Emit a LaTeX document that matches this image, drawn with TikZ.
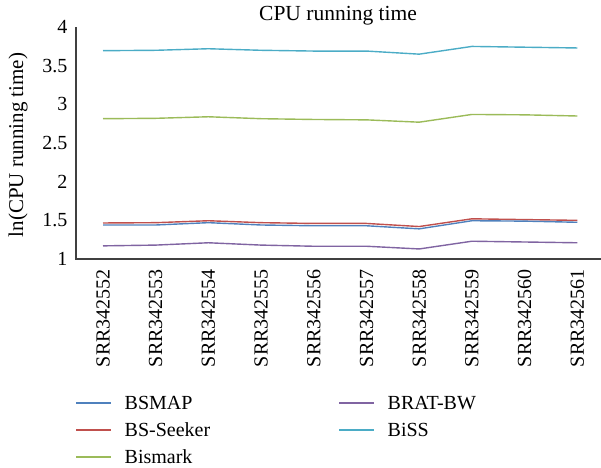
\documentclass[tikz,border=0pt]{standalone}
\usepackage{fontspec}
\setmainfont{Liberation Serif}
\definecolor{axisgray}{HTML}{404040}
\definecolor{cbsmap}{HTML}{4F81BD}
\definecolor{cseeker}{HTML}{C0504D}
\definecolor{cbismark}{HTML}{9BBB59}
\definecolor{cbrat}{HTML}{8064A2}
\definecolor{cbiss}{HTML}{4BACC6}
\tikzset{
  series/.style={line width=1.4pt, line join=round},
  ticklabel/.style={font=\rmfamily\fontsize{20}{24}\selectfont, inner sep=0pt},
  legendtext/.style={font=\rmfamily\fontsize{20}{24}\selectfont, anchor=west, inner sep=0pt}
}
\begin{document}
\begin{tikzpicture}[x=1pt, y=1pt]
      \useasboundingbox (0,0) rectangle (601,467);

      \node[font=\fontsize{21.5}{26}\selectfont](title)at(338,451){CPU running time};
      \node[font=\fontsize{21}{25}\selectfont, rotate=90](ylabel)at(18,322){ln(CPU running time)};

      \begin{scope}[x=52.7pt, y=77.3pt, shift={(103pt,130.7pt)}]
      \coordinate(O)at(-0.512,1);
      \coordinate(T)at(-0.512,4);
      \coordinate(R)at(9.45,1);

      \foreach \v in {1,1.5,2,2.5,3,3.5,4}
        \node[ticklabel, anchor=east](y\v)at(-0.67,\v){\v};

      \foreach \i/\name in {0/SRR342552,1/SRR342553,2/SRR342554,3/SRR342555,4/SRR342556,
                            5/SRR342557,6/SRR342558,7/SRR342559,8/SRR342560,9/SRR342561}
        \node[ticklabel, rotate=90, anchor=east](x\i)at(\i,0.87){\name};

      \draw[series, cbiss] plot coordinates {(0,3.695) (1,3.70) (2,3.72) (3,3.70) (4,3.69)
        (5,3.69) (6,3.65) (7,3.75) (8,3.74) (9,3.73)};
      \draw[series, cbismark] plot coordinates {(0,2.815) (1,2.82) (2,2.84) (3,2.815) (4,2.805)
        (5,2.80) (6,2.77) (7,2.87) (8,2.865) (9,2.85)};
      \draw[series, cseeker] plot coordinates {(0,1.466) (1,1.47) (2,1.495) (3,1.47) (4,1.46)
        (5,1.46) (6,1.42) (7,1.52) (8,1.51) (9,1.50)};
      \draw[series, cbsmap] plot coordinates {(0,1.44) (1,1.44) (2,1.47) (3,1.44) (4,1.43)
        (5,1.43) (6,1.39) (7,1.495) (8,1.49) (9,1.475)};
      \draw[series, cbrat] plot coordinates {(0,1.17) (1,1.18) (2,1.21) (3,1.18) (4,1.165)
        (5,1.165) (6,1.13) (7,1.23) (8,1.22) (9,1.21)};

      \draw[axisgray, line width=1.5pt](T)--(O)--(R);
      \end{scope}

      % legend
      \foreach \c/\name/\x/\y in {cbsmap/BSMAP/76/64, cseeker/BS-Seeker/76/37, cbismark/Bismark/76/10,
                                  cbrat/BRAT-BW/339/64, cbiss/BiSS/339/37}{
        \coordinate(l\name)at(\x,\y);
        \draw[series, \c](l\name)--++(35,0)node[legendtext, black, xshift=13pt]{\name};
      }
    \end{tikzpicture}
\end{document}
